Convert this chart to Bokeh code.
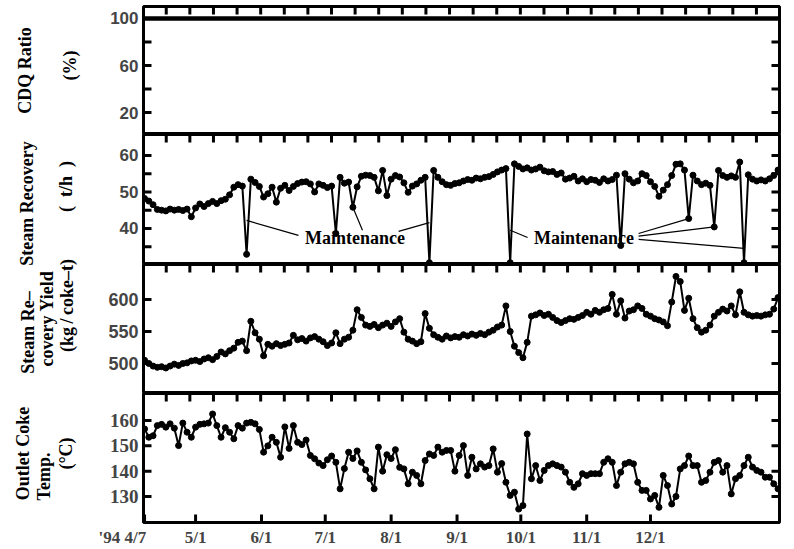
from math import pi, nan
from bokeh.plotting import figure
from bokeh.layouts import column, row
from bokeh.models import Range1d, LinearAxis, FixedTicker
from bokeh.core.properties import value
from bokeh.embed import file_html
from bokeh.resources import INLINE

# ---------------- data (day 0 = '94 4/7) ----------------
days = list(range(0, 300, 2))

cdq_days = [0, 298]
cdq_ratio = [100, 100]

steam_recovery = [
    48.2, 47.5, 46.5, 45.2, 45.0, 44.8, 45.3, 45.0, 45.2, 44.9,
    45.3, 43.2, 45.6, 46.7, 46.0, 46.8, 47.4, 46.8, 47.6, 48.0,
    49.2, 51.3, 52.0, 51.6, 32.9, 53.5, 52.6, 51.5, 48.6, 49.5,
    51.3, 47.2, 51.0, 51.8, 50.4, 51.5, 52.3, 52.7, 52.8, 52.2,
    50.0, 52.2, 51.8, 51.2, 51.6, 38.6, 54.0, 52.4, 52.7, 45.8,
    51.4, 54.3, 54.6, 54.5, 54.0, 50.3, 55.9, 49.0, 53.5, 54.5,
    54.1, 52.5, 49.9, 51.6, 52.2, 53.2, 54.0, 30.6, 55.9, 54.0,
    52.8, 52.0, 51.8, 52.3, 52.5, 53.0, 53.4, 53.2, 53.8, 53.6,
    54.0, 54.2, 54.8, 55.5, 56.0, 56.4, 30.6, 57.7, 57.0, 56.3,
    56.6, 56.0, 56.3, 56.8, 55.8, 55.5, 55.6, 54.8, 55.2, 53.5,
    53.8, 54.3, 53.0, 53.6, 52.8, 53.4, 53.2, 52.6, 53.6, 53.0,
    53.4, 54.6, 35.3, 55.0, 53.5, 52.5, 53.0, 55.0, 54.5, 52.8,
    51.5, 48.8, 50.5, 52.0, 54.5, 57.6, 57.7, 56.0, 42.7, 54.6,
    53.0, 52.0, 52.4, 51.8, 40.4, 55.9, 54.5, 54.0, 54.4, 54.0,
    58.2, 30.6, 54.7, 53.5, 53.0, 53.3, 53.0, 53.6, 54.5, 56.0,
]

recovery_yield = [
    505, 500, 496, 494, 495, 493, 496, 499, 497, 500,
    501, 504, 505, 503, 507, 509, 506, 511, 518, 515,
    520, 524, 533, 535, 520, 566, 548, 538, 512, 530,
    527, 531, 528, 530, 532, 544, 537, 539, 535, 540,
    542, 538, 534, 528, 532, 548, 531, 538, 541, 552,
    584, 572, 560, 558, 561, 556, 560, 563, 558, 565,
    570, 549, 538, 535, 531, 534, 578, 555, 545, 541,
    538, 543, 540, 542, 541, 545, 543, 546, 544, 547,
    545, 549, 552, 557, 560, 590, 550, 527, 517, 509,
    533, 574, 576, 579, 575, 577, 572, 567, 564, 567,
    570, 569, 572, 575, 580, 577, 583, 580, 584, 586,
    608, 577, 598, 571, 582, 584, 590, 586, 577, 574,
    570, 568, 565, 559, 596, 636, 628, 583, 602, 570,
    556, 549, 552, 560, 574, 580, 585, 582, 590, 576,
    612, 580, 576, 574, 575, 574, 576, 577, 585, 603,
]

coke_temp = [
    156.7, 153.4, 154.0, 158.0, 158.5, 157.4, 158.7, 157.0, 150.1, 159.0,
    155.4, 153.4, 157.4, 158.5, 158.7, 159.0, 162.6, 158.0, 153.4, 157.2,
    155.4, 152.8, 158.0, 157.0, 159.0, 159.3, 158.7, 156.5, 147.5, 150.0,
    153.4, 151.4, 145.5, 157.5, 149.0, 158.0, 151.4, 150.5, 152.3, 146.2,
    144.9, 143.2, 142.2, 144.5, 146.0, 143.5, 133.0, 141.0, 147.5, 145.0,
    148.0, 143.5, 140.5, 137.0, 133.0, 149.5, 140.0, 146.5, 145.0, 148.5,
    141.5, 140.9, 135.0, 139.6, 138.3, 135.0, 144.2, 146.8, 146.2, 149.5,
    147.5, 148.2, 148.2, 140.0, 146.2, 150.1, 138.3, 145.5, 140.9, 142.9,
    141.6, 142.2, 148.8, 139.6, 143.0, 135.6, 130.4, 131.7, 125.0, 126.4,
    154.7, 137.0, 142.2, 136.3, 140.3, 142.2, 142.9, 142.2, 141.6, 139.6,
    135.6, 133.6, 135.0, 139.0, 138.3, 139.0, 139.0, 139.0, 143.5, 144.9,
    143.5, 134.3, 139.6, 142.9, 143.5, 142.9, 135.6, 132.4, 132.4, 129.0,
    130.4, 125.7, 138.3, 134.3, 127.0, 130.0, 140.9, 142.2, 146.0, 142.2,
    142.2, 135.6, 136.3, 139.6, 143.5, 144.2, 139.6, 142.2, 131.0, 137.0,
    138.3, 142.2, 145.5, 141.6, 140.3, 139.6, 137.6, 137.6, 135.0, 133.0,
]

month_days = [0, 24, 55, 85, 116, 147, 177, 208, 238]
month_labels = ["'94 4/7" + "\u2002" * 7, "5/1", "6/1", "7/1", "8/1",
                "9/1", "10/1", "11/1", "12/1"]

# panel titles (vertical, several lines each)
title_texts = ["CDQ Ratio", "(%)",
               "Steam Recovery", "(\u2002t/h\u2002)",
               "Steam Re\u2013", "covery Yield", "(kg\u2009/\u2009coke\u2013t)",
               "Outlet Coke", "Temp.", "(\u00b0C)"]
# positions of the titles, in page pixels (x from left, y from top)
title_px = [24, 69, 26, 65, 27, 46, 66, 22, 43, 65]
title_py = [70, 65, 203, 186, 332, 318, 305, 453, 476, 453]

# ---------------- style ----------------
SERIF = "Liberation Serif"
SANS = "Liberation Sans"
FRAME_W = 636
TITLE_W = 98
LEFT = 45
RIGHT = 8
TOTAL_H = 546
TICK_L = 8     # tick length in px, measured from the frame edge
TICK_W = 3     # tick thickness in px
X0, X1 = -0.5, 298.7
x_range = Range1d(X0, X1)
top_ticks = [10.2 + 11.106 * k for k in range(26)]
PPX = FRAME_W / (X1 - X0)


def tick_marks(p, yr, frame_h, yt, bottom_ticks=None):
    """inward tick marks on all four sides of the frame, drawn as one broken path"""
    ppy = frame_h / (yr[1] - yr[0])
    lx, ly = TICK_L / PPX, TICK_L / ppy
    xs, ys = [], []
    for y in yt:
        xs += [X0, X0 + lx, nan, X1, X1 - lx, nan]
        ys += [y, y, nan, y, y, nan]
    for t in top_ticks:
        xs += [t, t, nan]
        ys += [yr[1], yr[1] - ly, nan]
    for t in (bottom_ticks or []):
        xs += [t, t, nan]
        ys += [yr[0], yr[0] + ly, nan]
    p.line(xs, ys, line_width=TICK_W, line_color="black", line_cap="butt")


def make_panel(frame_h, yr, major, tick_font, tick_size, top=0, bottom=0):
    p = figure(frame_width=FRAME_W, frame_height=frame_h, x_range=x_range,
               y_range=Range1d(*yr), output_backend="svg", toolbar_location=None,
               x_axis_location=None, y_axis_location=None,
               min_border_left=LEFT, min_border_right=RIGHT,
               min_border_top=top, min_border_bottom=bottom)
    p.grid.visible = False
    p.outline_line_color = "black"
    p.outline_line_width = 3

    ya = LinearAxis(ticker=FixedTicker(ticks=major))
    ya.major_tick_in = 0
    ya.major_tick_out = 0
    ya.minor_tick_in = 0
    ya.minor_tick_out = 0
    ya.axis_line_color = None
    ya.major_label_text_font = tick_font
    ya.major_label_text_font_style = "bold"
    ya.major_label_text_font_size = tick_size
    ya.major_label_standoff = 5
    p.add_layout(ya, "left")
    return p


def series(p, xs, ys):
    p.line(xs, ys, line_width=2, color="black")
    p.scatter(xs, ys, size=6, color="black")


# Panel 1: CDQ ratio
yr1 = (1.3, 110.2)
p1 = make_panel(128, yr1, [20, 60, 100], SANS, "17px", top=6)
p1.line(cdq_days, cdq_ratio, line_width=4.5, color="black")
tick_marks(p1, yr1, 128, [20, 40, 60, 80, 100])

# Panel 2: steam recovery
yr2 = (30.1, 65.75)
p2 = make_panel(130, yr2, [40, 50, 60], SANS, "17px")
series(p2, days, steam_recovery)
tick_marks(p2, yr2, 130, [35, 40, 45, 50, 55, 60])
p2.text(x=[99, 206.7], y=[37.3, 37.3], text=["Maintenance", "Maintenance"],
        text_align="center", text_baseline="middle", text_font=value(SERIF),
        text_font_style="bold", text_font_size="18px", color="black")

i = {d: k for k, d in enumerate(days)}
lead_x0 = [72.4, 102.5, 119.5, 180.2, 232.4, 232.4, 232.4]
lead_y0 = [38.1, 39.5, 39.2, 37.5, 38.6, 37.9, 37.0]
lead_x1 = [days[i[48]], days[i[98]], days[i[134]], days[i[172]],
           days[i[256]], days[i[268]], days[i[282]]]
lead_y1 = [42.2, steam_recovery[i[98]], 41.6, 39.5,
           steam_recovery[i[256]], steam_recovery[i[268]], 34.5]
p2.segment(x0=lead_x0, y0=lead_y0, x1=lead_x1, y1=lead_y1,
           line_width=1.2, color="black")

# Panel 3: steam recovery yield
yr3 = (453.1, 654.7)
p3 = make_panel(129, yr3, [500, 550, 600], SANS, "18px")
series(p3, days, recovery_yield)
tick_marks(p3, yr3, 129, [500, 550, 600])

# Panel 4: outlet coke temperature
yr4 = (119.7, 170.7)
p4 = make_panel(129, yr4, [130, 140, 150, 160], SERIF, "19px")
series(p4, days, coke_temp)
tick_marks(p4, yr4, 129, [130, 140, 150, 160], bottom_ticks=month_days)

xa = LinearAxis(ticker=FixedTicker(ticks=month_days))
xa.major_label_overrides = {d: t for d, t in zip(month_days, month_labels)}
xa.major_tick_in = 0
xa.major_tick_out = 0
xa.axis_line_color = None
xa.major_label_text_font = SERIF
xa.major_label_text_font_style = "bold"
xa.major_label_text_font_size = "17px"
xa.major_label_standoff = 5
p4.add_layout(xa, "below")

# title strip on the left (page-pixel coordinates)
pt = figure(width=TITLE_W, height=TOTAL_H, x_range=Range1d(0, TITLE_W),
            y_range=Range1d(0, TOTAL_H), output_backend="svg", toolbar_location=None,
            x_axis_location=None, y_axis_location=None, min_border=0)
pt.grid.visible = False
pt.outline_line_color = None
pt.text(x=title_px, y=[TOTAL_H - y for y in title_py], text=title_texts,
        angle=pi / 2, text_align="center", text_baseline="middle",
        text_font=value(SERIF), text_font_style="bold", text_font_size="18px",
        color="black")

layout = row(pt, column(p1, p2, p3, p4, spacing=0), spacing=0)
open("out.html", "w").write(file_html(layout, INLINE))
